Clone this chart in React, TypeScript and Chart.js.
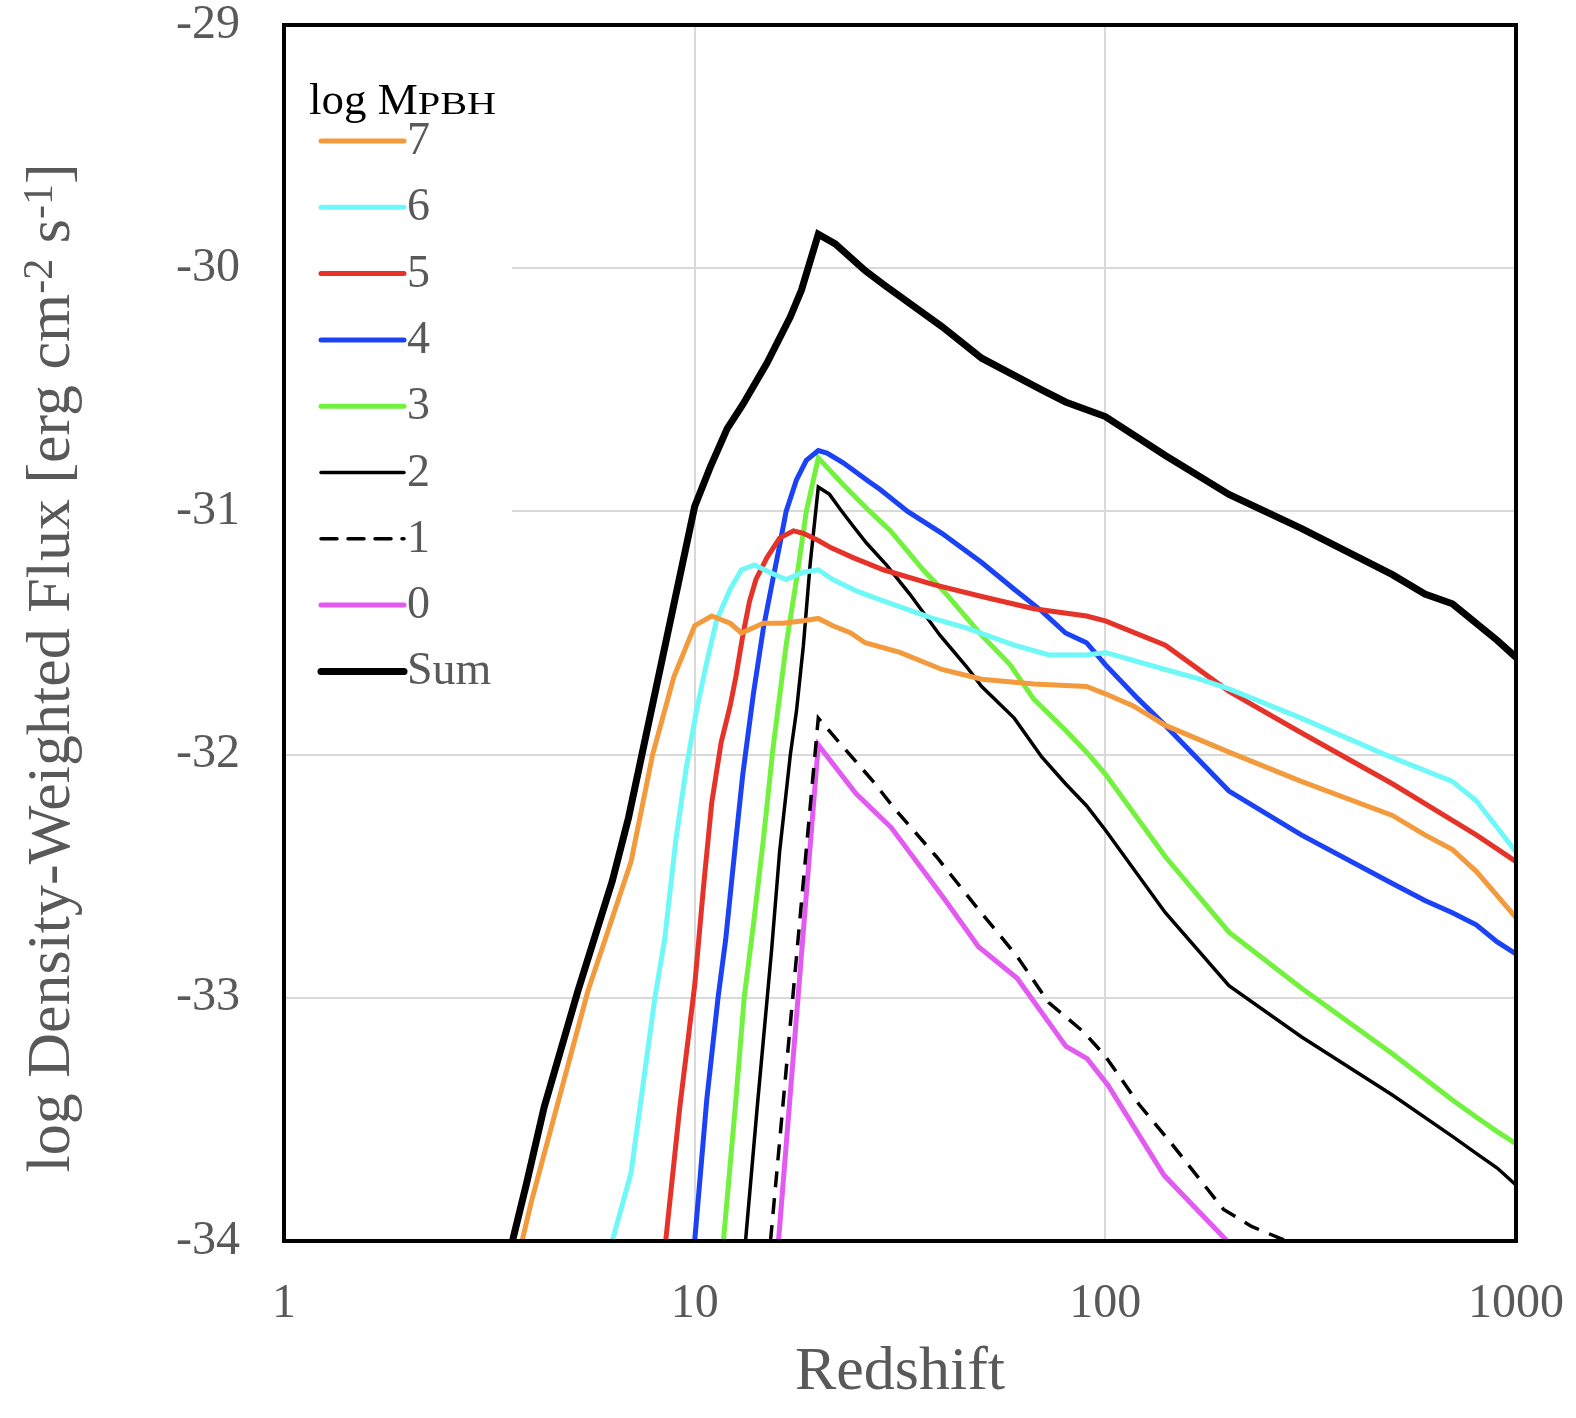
import { useEffect, useRef } from 'react';
import Chart from 'chart.js/auto';

// redshift / log flux pairs, one pair of arrays per log M_PBH
const z7 = [3.8, 4.0, 5.5, 6.0, 7.0, 7.9, 8.9, 10, 11, 12.2, 13, 14.7, 16.4, 18.4, 20, 21.7, 24, 26, 31.6, 40, 50, 67, 90, 100, 117, 140, 200, 300, 500, 600, 700, 800, 900, 1000];
const flux7 = [-34.0, -33.84, -32.97, -32.78, -32.44, -32.0, -31.68, -31.47, -31.43, -31.46, -31.5, -31.46, -31.46, -31.45, -31.44, -31.47, -31.5, -31.54, -31.58, -31.65, -31.69, -31.71, -31.72, -31.75, -31.8, -31.88, -31.99, -32.11, -32.25, -32.33, -32.39, -32.48, -32.58, -32.67];

const z6 = [6.3, 7.0, 8.0, 8.45, 9.0, 9.55, 10.1, 10.7, 11.3, 12.2, 13, 14, 15.2, 16.7, 18.4, 20, 21.7, 25, 29, 38, 46, 60, 73, 90, 100, 140, 170, 200, 300, 480, 700, 800, 900, 1000];
const flux6 = [-34.0, -33.72, -33.0, -32.76, -32.35, -32.05, -31.82, -31.62, -31.45, -31.32, -31.24, -31.22, -31.25, -31.28, -31.25, -31.24, -31.28, -31.33, -31.37, -31.44, -31.48, -31.55, -31.59, -31.59, -31.58, -31.65, -31.69, -31.73, -31.85, -32.0, -32.11, -32.19, -32.3, -32.4];

const z5 = [8.5, 9.2, 10, 10.5, 11, 11.6, 12.2, 12.6, 13.1, 13.6, 14.1, 15, 16.1, 17.4, 18.4, 20, 21.5, 24.3, 28.8, 38, 50, 67, 90, 100, 140, 200, 300, 500, 700, 800, 1000];
const flux5 = [-34.0, -33.45, -32.95, -32.55, -32.2, -31.95, -31.8, -31.68, -31.51, -31.37, -31.28, -31.19, -31.11, -31.08, -31.09, -31.12, -31.15, -31.19, -31.24, -31.3, -31.35, -31.4, -31.43, -31.45, -31.55, -31.74, -31.91, -32.12, -32.27, -32.33, -32.44];

const z4 = [10, 10.7, 11.4, 11.9, 12.6, 13.1, 13.9, 14.7, 15.5, 16.1, 16.7, 17.7, 18.7, 20, 21, 23, 26.7, 28.3, 33, 40, 50, 60, 70, 80, 90, 100, 120, 140, 200, 300, 500, 600, 700, 800, 900, 1000];
const flux4 = [-34.0, -33.42, -33.0, -32.76, -32.35, -32.08, -31.75, -31.48, -31.28, -31.14, -31.0, -30.87, -30.79, -30.75, -30.76, -30.8, -30.88, -30.91, -31.0, -31.09, -31.21, -31.32, -31.41, -31.5, -31.54, -31.63, -31.77, -31.88, -32.15, -32.33, -32.53, -32.6, -32.65, -32.7, -32.77, -32.82];

const z3 = [11.75, 12.6, 13.2, 13.9, 14.7, 15.5, 16.7, 17.7, 18.7, 20, 23, 26.7, 30, 36, 41, 50, 58.6, 66.8, 80, 90, 100, 140, 200, 300, 500, 700, 800, 900, 1000];
const flux3 = [-34.0, -33.42, -33.0, -32.7, -32.35, -31.98, -31.55, -31.28, -31.0, -30.78, -30.89, -31.0, -31.08, -31.24, -31.34, -31.51, -31.63, -31.77, -31.9, -31.99, -32.08, -32.42, -32.73, -32.96, -33.23, -33.42, -33.49, -33.55, -33.6];

const z2 = [13.3, 14.2, 15.4, 16.1, 17.1, 17.7, 18.4, 19.1, 20, 21.3, 22.6, 24.3, 26.2, 29.3, 33.4, 39.6, 46, 50, 60, 70, 80, 90, 100, 140, 200, 300, 500, 700, 800, 900, 1000];
const flux2 = [-34.0, -33.45, -32.8, -32.4, -32.0, -31.82, -31.55, -31.22, -30.9, -30.93, -30.99, -31.06, -31.13, -31.22, -31.34, -31.51, -31.64, -31.72, -31.85, -32.01, -32.12, -32.21, -32.31, -32.65, -32.95, -33.16, -33.4, -33.57, -33.64, -33.7, -33.77];

const z1 = [15.3, 20, 23.3, 27.2, 30.6, 38.8, 48.2, 61, 72.8, 88.5, 100, 121, 145, 194, 227, 276];
const flux1 = [-34.0, -31.85, -31.98, -32.11, -32.22, -32.42, -32.62, -32.83, -33.02, -33.14, -33.24, -33.44, -33.6, -33.87, -33.94, -34.0];

const z0 = [16.0, 20, 24.7, 30.1, 40.4, 49.1, 61, 80.2, 90.3, 101.6, 139, 198];
const flux0 = [-34.0, -31.96, -32.16, -32.3, -32.59, -32.79, -32.92, -33.2, -33.25, -33.36, -33.73, -34.0];

const zSum = [3.6, 3.9, 4.3, 5.2, 6.3, 6.9, 10, 10.9, 12, 13.1, 15, 17.1, 18.2, 20, 22, 26, 29, 40, 50, 70, 80, 100, 140, 200, 300, 500, 600, 700, 900, 1000];
const fluxSum = [-34.0, -33.76, -33.45, -32.97, -32.52, -32.26, -30.98, -30.82, -30.66, -30.56, -30.39, -30.2, -30.09, -29.86, -29.9, -30.01, -30.07, -30.24, -30.37, -30.5, -30.55, -30.61, -30.77, -30.93, -31.07, -31.26, -31.34, -31.38, -31.53, -31.6];

const seriesLabels = ['7', '6', '5', '4', '3', '2', '1', '0', 'Sum'];
const seriesZ = [z7, z6, z5, z4, z3, z2, z1, z0, zSum];
const seriesFlux = [flux7, flux6, flux5, flux4, flux3, flux2, flux1, flux0, fluxSum];

const xTicks = [1, 10, 100, 1000];
const yMin = -34;
const yMax = -29;

// styling
const colors = ['#f39a3c', '#6ff8f8', '#e5332a', '#1b43f5', '#72f23f', '#000000', '#000000', '#e35af3', '#000000'];
const widths = [5, 5, 5, 5, 5, 3.5, 3.5, 5, 7];
const dashes: number[][] = [[], [], [], [], [], [], [16, 11], [], []];

const GRAY = '#595959';
const SERIF = '"Liberation Serif", "Times New Roman", serif';

const legendPlugin = {
  id: 'pbhLegend',
  beforeDatasetsDraw(chart: any) {
    const { ctx, chartArea } = chart;
    ctx.save();
    ctx.fillStyle = '#ffffff';
    ctx.fillRect(chartArea.left + 2, 60, 512 - chartArea.left - 2, 648);
    ctx.restore();
  },
  afterDatasetsDraw(chart: any) {
    const { ctx } = chart;
    ctx.save();
    ctx.textAlign = 'left';
    ctx.textBaseline = 'alphabetic';
    ctx.fillStyle = '#000000';
    ctx.font = `45px ${SERIF}`;
    ctx.fillText('log M', 309, 114);
    const w = ctx.measureText('log M').width;
    ctx.save();
    ctx.translate(309 + w, 114);
    ctx.scale(1.3, 1);
    ctx.font = `31px ${SERIF}`;
    ctx.fillText('PBH', 0, 0);
    ctx.restore();

    chart.data.datasets.forEach((ds: any, i: number) => {
      const y = 141 + i * 66.3;
      ctx.strokeStyle = ds.borderColor;
      ctx.lineWidth = ds.borderWidth;
      ctx.lineCap = 'round';
      ctx.setLineDash(ds.borderDash || []);
      ctx.beginPath();
      ctx.moveTo(321, y);
      ctx.lineTo(404, y);
      ctx.stroke();
      ctx.setLineDash([]);
      ctx.fillStyle = GRAY;
      ctx.font = `46px ${SERIF}`;
      ctx.textBaseline = 'middle';
      ctx.fillText(ds.label, 407, y + 1);
    });
    ctx.restore();
  },
  afterDraw(chart: any) {
    const { ctx, chartArea } = chart;
    ctx.save();
    // plot frame
    ctx.strokeStyle = '#000000';
    ctx.lineWidth = 4;
    ctx.strokeRect(chartArea.left, chartArea.top, chartArea.right - chartArea.left, chartArea.bottom - chartArea.top);

    // y-axis title with superscripts
    const parts = [
      { text: 'log Density-Weighted Flux [erg cm', sup: false },
      { text: '-2', sup: true },
      { text: ' s', sup: false },
      { text: '-1', sup: true },
      { text: ']', sup: false },
    ];
    const mainFont = `62px ${SERIF}`;
    const supFont = `42px ${SERIF}`;
    let total = 0;
    const sizes = parts.map((p) => {
      ctx.font = p.sup ? supFont : mainFont;
      const m = ctx.measureText(p.text).width;
      total += m;
      return m;
    });
    ctx.translate(69, 668);
    ctx.rotate(-Math.PI / 2);
    ctx.fillStyle = GRAY;
    ctx.textAlign = 'left';
    ctx.textBaseline = 'alphabetic';
    let x = -total / 2;
    parts.forEach((p, i) => {
      ctx.font = p.sup ? supFont : mainFont;
      ctx.fillText(p.text, x, p.sup ? -17 : 0);
      x += sizes[i];
    });
    ctx.restore();
  },
};

export default function App() {
  const canvasRef = useRef<HTMLCanvasElement>(null);
  const chartRef = useRef<Chart | null>(null);

  useEffect(() => {
    document.body.style.margin = '0';
    if (!canvasRef.current) return;
    if (chartRef.current) chartRef.current.destroy();

    Chart.defaults.font.family = SERIF;

    const datasets = seriesLabels.map((label, i) => ({
      label,
      data: seriesZ[i].map((z, j) => ({ x: z, y: seriesFlux[i][j] })),
      borderColor: colors[i],
      backgroundColor: colors[i],
      borderWidth: widths[i],
      borderDash: dashes[i],
      pointRadius: 0,
      tension: 0,
      fill: false,
      order: label === 'Sum' ? -1 : i,
    }));

    chartRef.current = new Chart(canvasRef.current, {
      type: 'line',
      data: { datasets },
      options: {
        responsive: false,
        animation: false,
        layout: { padding: { top: 25, right: 60, left: 0, bottom: 0 } },
        plugins: {
          legend: { display: false },
          tooltip: { enabled: false },
        },
        scales: {
          x: {
            type: 'logarithmic',
            min: 1,
            max: 1000,
            afterBuildTicks: (scale: any) => {
              scale.ticks = xTicks.map((v) => ({ value: v }));
            },
            afterFit: (scale: any) => {
              scale.height = 177;
              scale.paddingLeft = 0;
              scale.paddingRight = 0;
            },
            grid: { color: '#d9d9d9', lineWidth: 2, drawTicks: false },
            border: { display: false },
            ticks: {
              padding: 35,
              color: GRAY,
              font: { size: 48 },
              maxRotation: 0,
              autoSkip: false,
              callback: (v: any) => String(v),
            },
            title: {
              display: true,
              text: 'Redshift',
              color: GRAY,
              font: { size: 62 },
              padding: { top: 0, bottom: 8 },
            },
          },
          y: {
            type: 'linear',
            min: yMin,
            max: yMax,
            afterFit: (scale: any) => {
              scale.width = 284;
              scale.paddingTop = 0;
              scale.paddingBottom = 0;
            },
            grid: { color: '#d9d9d9', lineWidth: 2, drawTicks: false },
            border: { display: false },
            ticks: {
              stepSize: 1,
              padding: 44,
              color: GRAY,
              font: { size: 48 },
              callback: (v: any) => String(v),
            },
          },
        },
      },
      plugins: [legendPlugin],
    } as any);

    return () => {
      if (chartRef.current) {
        chartRef.current.destroy();
        chartRef.current = null;
      }
    };
  }, []);

  return (
    <div style={{ width: 1576, height: 1418, background: '#ffffff' }}>
      <canvas ref={canvasRef} width={1576} height={1418}></canvas>
    </div>
  );
}
